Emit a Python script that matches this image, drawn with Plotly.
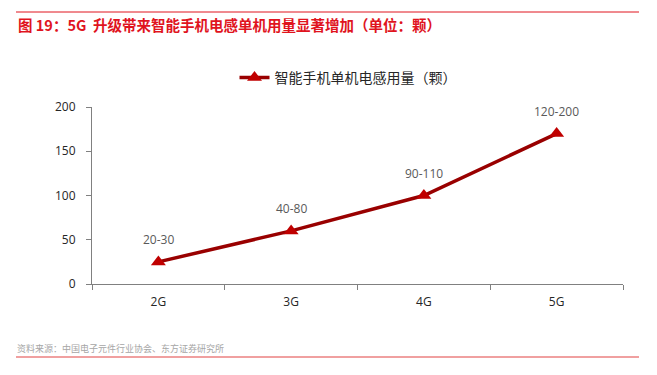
import plotly.graph_objects as go

categories = ["2G", "3G", "4G", "5G"]
values = [25, 60, 100, 170]
value_labels = ["20-30", "40-80", "90-110", "120-200"]
series_name = "智能手机单机电感用量（颗）"
title_text = "图 19：5G  升级带来智能手机电感单机用量显著增加（单位：颗）"
source_text = "资料来源：中国电子元件行业协会、东方证券研究所"
y_ticks = [0, 50, 100, 150, 200]

W, H = 657, 375
L, R, T, B = 92, 34, 107, 91
pw, ph = W - L - R, H - T - B

def px_x(px):
    return (px - L) / pw

def px_y(py):
    return (H - B - py) / ph

fig = go.Figure()
fig.add_trace(go.Scatter(
    x=categories, y=values, mode="lines+markers", name=series_name,
    line=dict(color="#990000", width=3.5),
    marker=dict(symbol="triangle-up", size=13, color="#C00000"),
))

for c, v, t in zip(categories, values, value_labels):
    fig.add_annotation(x=c, y=v, text=t, showarrow=False, yshift=22,
                       font=dict(family="Open Sans, Liberation Sans", size=12, color="#595959"))

fig.add_annotation(xref="paper", yref="paper", x=px_x(16), y=px_y(24),
                   xanchor="left", yanchor="middle", showarrow=False,
                   text="<b>" + title_text + "</b>",
                   font=dict(family="Noto Sans CJK SC", size=14.5, color="#E0141E"))
fig.add_annotation(xref="paper", yref="paper", x=px_x(15), y=px_y(348),
                   xanchor="left", yanchor="middle", showarrow=False,
                   text=source_text,
                   font=dict(family="Noto Sans CJK SC", size=9, color="#A6A6A6"))

fig.add_shape(type="line", xref="paper", yref="paper",
              x0=px_x(16), x1=px_x(639), y0=px_y(12), y1=px_y(12),
              line=dict(color="#E0141E", width=1))
fig.add_shape(type="line", xref="paper", yref="paper",
              x0=px_x(16), x1=px_x(639), y0=px_y(357), y1=px_y(357),
              line=dict(color="#EB8080", width=1.5))

fig.update_layout(
    width=W, height=H,
    margin=dict(l=L, r=R, t=T, b=B),
    paper_bgcolor="white", plot_bgcolor="white",
    showlegend=True,
    legend=dict(orientation="h", x=px_x(348), y=px_y(78), xanchor="center", yanchor="middle",
                font=dict(family="Noto Sans CJK SC", size=14, color="#262626"),
                bgcolor="rgba(0,0,0,0)"),
    xaxis=dict(type="category", range=[-0.5, 3.5], showline=True, linecolor="#808080", linewidth=1,
               ticks="outside", tickson="boundaries", ticklen=5, tickcolor="#808080",
               showgrid=False, zeroline=False, ticklabelstandoff=7,
               tickfont=dict(family="Open Sans, Liberation Sans", size=12, color="#262626")),
    yaxis=dict(range=[0, 200], tickvals=y_ticks, showline=True, linecolor="#808080", linewidth=1,
               ticks="outside", ticklen=5, tickcolor="#808080", showgrid=False, zeroline=False,
               ticklabelstandoff=8,
               tickfont=dict(family="Open Sans, Liberation Sans", size=12, color="#262626")),
)

fig.write_html("out.html", config={"displayModeBar": False},
               post_script="document.body.style.margin='0';document.body.style.overflow='hidden';")
